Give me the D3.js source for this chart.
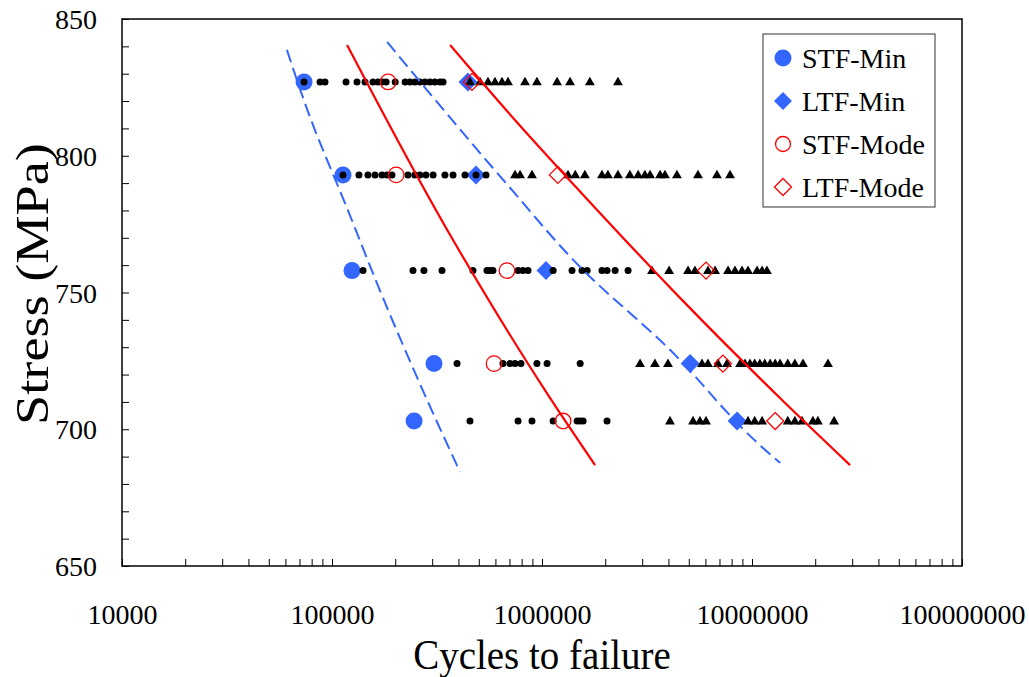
<!DOCTYPE html>
<html>
<head>
<meta charset="utf-8">
<script src="https://cdn.jsdelivr.net/npm/d3@7"></script>
<style>
  html, body { margin: 0; padding: 0; background: #fff; }
  svg { display: block; font-family: "Liberation Serif", "Times New Roman", serif; }
</style>
</head>
<body>
<svg id="chart" width="1029" height="677"></svg>
<script>
// stress levels (MPa) and cycles to failure
var stressLevels = [827, 793, 758, 724, 703];

// short-term failures (black dots), one list per stress level
var stfCycles = [
  [7.36e4, 8.77e4, 9.26e4, 1.166e5, 1.315e5, 1.436e5, 1.567e5, 1.656e5, 1.73e5, 1.81e5, 2.0e5,
   2.23e5, 2.35e5, 2.48e5, 2.62e5, 2.77e5, 2.93e5, 3.09e5, 3.27e5, 3.38e5],
  [1.128e5, 1.344e5, 1.483e5, 1.603e5, 1.73e5, 1.828e5, 1.93e5, 2.30e5, 2.48e5, 2.62e5, 2.80e5,
   3.03e5, 3.45e5, 3.77e5, 4.30e5, 4.85e5, 5.41e5],
  [1.405e5, 2.43e5, 2.74e5, 3.34e5, 4.69e5, 5.47e5, 5.65e5, 5.84e5, 7.69e5, 8.12e5, 8.58e5,
   1.13e6, 1.39e6, 1.55e6, 1.64e6, 1.93e6, 2.04e6, 2.23e6, 2.57e6],
  [3.94e5, 6.52e5, 7.04e5, 7.44e5, 7.94e5, 9.46e5, 1.057e6, 1.52e6],
  [4.54e5, 7.69e5, 8.96e5, 1.13e6, 1.47e6, 1.52e6, 1.57e6, 2.04e6]
];

// long-term failures (black triangles), one list per stress level
var ltfCycles = [
  [4.54e5, 5.07e5, 5.53e5, 5.97e5, 6.45e5, 6.89e5, 8.3e5, 9.46e5, 1.18e6, 1.36e6, 1.69e6, 2.30e6],
  [7.44e5, 7.86e5, 8.96e5, 1.33e6, 1.44e6, 1.60e6, 1.93e6, 2.06e6, 2.30e6, 2.62e6, 2.87e6, 3.09e6,
   3.27e6, 3.65e6, 3.85e6, 4.39e6, 5.53e6, 6.81e6, 7.86e6],
  [3.34e6, 4.03e6, 4.96e6, 5.35e6, 6.17e6, 6.67e6, 7.69e6, 8.3e6, 8.96e6, 9.57e6, 1.057e7,
   1.117e7, 1.178e7],
  [2.93e6, 3.45e6, 3.98e6, 5.78e6, 6.17e6, 6.89e6, 7.6e6, 8.77e6, 9.26e6, 9.78e6, 1.03e7, 1.09e7,
   1.15e7, 1.22e7, 1.29e7, 1.36e7, 1.48e7, 1.60e7, 1.75e7, 2.30e7],
  [4.07e6, 5.24e6, 5.65e6, 6.04e6, 9.57e6, 1.03e7, 1.117e7, 1.48e7, 1.60e7, 1.73e7, 1.95e7,
   2.06e7, 2.46e7]
];

// estimated distribution parameters per stress level
var stfMin  = [7.36e4, 1.128e5, 1.245e5, 3.06e5, 2.46e5];
var ltfMin  = [4.44e5, 4.85e5, 1.045e6, 5.07e6, 8.49e6];
var stfMode = [1.85e5, 2.02e5, 6.81e5, 5.91e5, 1.26e6];
var ltfMode = [4.64e5, 1.19e6, 6.04e6, 7.27e6, 1.29e7];

// fitted curves as [cycles, stress]
var stfMinFit  = [[6.1e4, 838.7], [7.85e4, 814.2], [1.153e5, 782.7], [1.75e5, 748.0], [2.77e5, 712.5], [4.07e5, 684.4]];
var ltfMinFit  = [[1.83e5, 841.6], [6.67e5, 790.4], [1.57e6, 758.2], [3.94e6, 730.1], [1.09e7, 694.2], [1.36e7, 687.7]];
var stfModeFit = [[1.18e5, 840.5], [3.77e5, 769.2], [1.07e6, 712.5], [1.79e6, 686.9]];
var ltfModeFit = [[3.65e5, 840.5], [7.43e5, 813.1], [1.83e6, 780.2], [4.64e6, 747.3], [1.39e7, 710.7], [2.93e7, 686.9]];

var legendLabels = ["STF-Min", "LTF-Min", "STF-Mode", "LTF-Mode"];

var blue = "#3366ff", red = "#ff0000";

var svg = d3.select("#chart"),
    margin = {left: 122, top: 19, right: 67, bottom: 111},
    width = 1029 - margin.left - margin.right,
    height = 677 - margin.top - margin.bottom,
    g = svg.append("g").attr("transform", "translate(" + margin.left + "," + margin.top + ")");

var x = d3.scaleLog().domain([1e4, 1e8]).range([0, width]);
var y = d3.scaleLinear().domain([650, 850]).range([height, 0]);

// x axis: log ticks, labels on decades only
var xTicks = [];
for (var e = 4; e < 8; e++) for (var m = 1; m < 10; m++) xTicks.push(m * Math.pow(10, e));
xTicks.push(1e8);

var xAxis = g.append("g")
    .attr("transform", "translate(0," + height + ")")
    .call(d3.axisBottom(x).tickValues(xTicks).tickSize(-7).tickSizeOuter(0)
      .tickFormat(function(d) { var l = Math.log10(d); return Math.abs(l - Math.round(l)) < 1e-9 ? String(Math.round(d)) : ""; }));
xAxis.select(".domain").remove();
xAxis.selectAll("line").attr("stroke", "#000");
xAxis.selectAll("text")
    .attr("y", 58).attr("dy", 0)
    .attr("font-size", 28).attr("font-family", "Liberation Serif, Times New Roman, serif").attr("fill", "#000");

var yAxis = g.append("g")
    .call(d3.axisLeft(y).tickValues(d3.range(650, 851, 10)).tickSize(-7).tickSizeOuter(0)
      .tickFormat(function(d) { return d % 50 === 0 ? d : ""; }));
yAxis.select(".domain").remove();
yAxis.selectAll("line").attr("stroke", "#000");
yAxis.selectAll("text")
    .attr("x", -25).attr("dy", "0.34em")
    .attr("font-size", 28).attr("font-family", "Liberation Serif, Times New Roman, serif").attr("fill", "#000");

// plot frame
g.append("rect")
    .attr("width", width).attr("height", height)
    .attr("fill", "none").attr("stroke", "#000").attr("stroke-width", 1.5);

// axis titles (the source glyphs are a bit taller than wide)
svg.append("text")
    .attr("transform", "translate(" + (margin.left + x(1e6)) + ",669) scale(1,1.1)")
    .attr("text-anchor", "middle").attr("font-size", 39)
    .text("Cycles to failure");
svg.append("text")
    .attr("transform", "translate(48,284) rotate(-90) scale(1.18,1)")
    .attr("text-anchor", "middle").attr("font-size", 46)
    .text("Stress (MPa)");

var diamond = function(r) { return "M0," + (-r) + "L" + r + ",0L0," + r + "L" + (-r) + ",0Z"; };
var tri = d3.symbol().type(d3.symbolTriangle).size(42);

// blue filled markers
g.selectAll(".stfmin").data(stfMin).enter().append("circle")
    .attr("cx", function(d) { return x(d); })
    .attr("cy", function(d, i) { return y(stressLevels[i]); })
    .attr("r", 8.5).attr("fill", blue);
g.selectAll(".ltfmin").data(ltfMin).enter().append("path")
    .attr("transform", function(d, i) { return "translate(" + x(d) + "," + y(stressLevels[i]) + ")"; })
    .attr("d", diamond(9.5)).attr("fill", blue);

// black test points
stressLevels.forEach(function(s, i) {
  g.selectAll(".stf" + i).data(stfCycles[i]).enter().append("circle")
      .attr("cx", function(d) { return x(d); })
      .attr("cy", y(s))
      .attr("r", 3.5).attr("fill", "#000");
  g.selectAll(".ltf" + i).data(ltfCycles[i]).enter().append("path")
      .attr("transform", function(d) { return "translate(" + x(d) + "," + (y(s) + 0.5) + ")"; })
      .attr("d", tri).attr("fill", "#000");
});

// fitted lines
var line = d3.line().curve(d3.curveMonotoneY)
    .x(function(d) { return x(d[0]); })
    .y(function(d) { return y(d[1]); });

[stfMinFit, ltfMinFit].forEach(function(pts) {
  g.append("path").datum(pts).attr("d", line)
      .attr("fill", "none").attr("stroke", blue).attr("stroke-width", 2)
      .attr("stroke-dasharray", "13,6");
});
[stfModeFit, ltfModeFit].forEach(function(pts) {
  g.append("path").datum(pts).attr("d", line)
      .attr("fill", "none").attr("stroke", red).attr("stroke-width", 2.2);
});

// red open markers
g.selectAll(".stfmode").data(stfMode).enter().append("circle")
    .attr("cx", function(d) { return x(d); })
    .attr("cy", function(d, i) { return y(stressLevels[i]); })
    .attr("r", 7.8).attr("fill", "none").attr("stroke", red).attr("stroke-width", 1.3);
g.selectAll(".ltfmode").data(ltfMode).enter().append("path")
    .attr("transform", function(d, i) { return "translate(" + x(d) + "," + y(stressLevels[i]) + ")"; })
    .attr("d", diamond(8.5)).attr("fill", "none").attr("stroke", red).attr("stroke-width", 1.3);

// legend
var lg = svg.append("g").attr("transform", "translate(763,34)");
lg.append("rect").attr("width", 172).attr("height", 173)
    .attr("fill", "#fff").attr("stroke", "#333").attr("stroke-width", 1);
legendLabels.forEach(function(lab, i) {
  var cy = 24 + i * 43, item = lg.append("g").attr("transform", "translate(20," + cy + ")");
  if (i === 0) item.append("circle").attr("r", 8.5).attr("fill", blue);
  if (i === 1) item.append("path").attr("d", diamond(9)).attr("fill", blue);
  if (i === 2) item.append("circle").attr("r", 7.5).attr("fill", "none").attr("stroke", red).attr("stroke-width", 1.3);
  if (i === 3) item.append("path").attr("d", diamond(8.5)).attr("fill", "none").attr("stroke", red).attr("stroke-width", 1.3);
  item.append("text").attr("x", 19).attr("dy", "0.34em").attr("font-size", 28).text(lab);
});
</script>
</body>
</html>
